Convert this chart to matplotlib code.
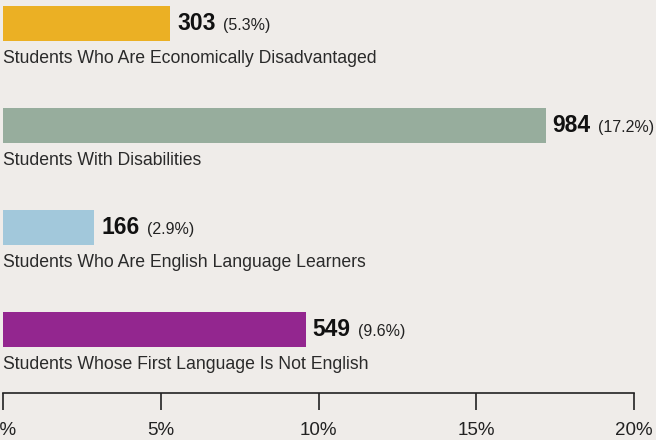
import matplotlib.pyplot as plt

# ---- DATA ----
categories = [
    "Students Who Are Economically Disadvantaged",
    "Students With Disabilities",
    "Students Who Are English Language Learners",
    "Students Whose First Language Is Not English",
]
counts = [303, 984, 166, 549]
percents = [5.3, 17.2, 2.9, 9.6]
colors = ["#EBB024", "#97AD9D", "#A2C8DB", "#93268F"]
xticks = [0, 5, 10, 15, 20]

BG = "#EFECE9"
plt.rcParams["font.family"] = ["Liberation Sans", "DejaVu Sans"]

fig = plt.figure(figsize=(6.56, 4.4), dpi=100, facecolor=BG)
ax = fig.add_axes([3 / 656, 47 / 440, 631 / 656, 393 / 440])
ax.set_facecolor(BG)

ypos = list(range(len(categories)))
ax.barh(ypos, percents, height=0.343, color=colors)

for y, c, p, name in zip(ypos, counts, percents, categories):
    t = ax.annotate(str(c), (p, y), xytext=(5, 0), textcoords="offset points",
                    ha="left", va="center", fontsize=16.5, fontweight="bold",
                    color="#111111")
    ax.annotate(f"({p}%)", (1, 0.5), xycoords=t, xytext=(5, -1.5),
                textcoords="offset points", ha="left", va="center",
                fontsize=11.5, color="#222222")
    ax.text(0, y + 0.345, name, ha="left", va="center", fontsize=12.7,
            color="#2a2a2a")

ax.set_xlim(0, 20)
ax.set_ylim(3.622, -0.230)
ax.set_xticks(xticks)
ax.set_xticklabels([f"{v}%" for v in xticks], fontsize=13.5, color="#222222")
ax.tick_params(axis="x", direction="out", length=12, width=1.2, pad=9,
               colors="#222222")
ax.set_yticks([])
for s in ["top", "left", "right"]:
    ax.spines[s].set_visible(False)
ax.spines["bottom"].set_linewidth(1.2)
ax.spines["bottom"].set_color("#222222")

fig.savefig("out.png", dpi=100, facecolor=BG)
